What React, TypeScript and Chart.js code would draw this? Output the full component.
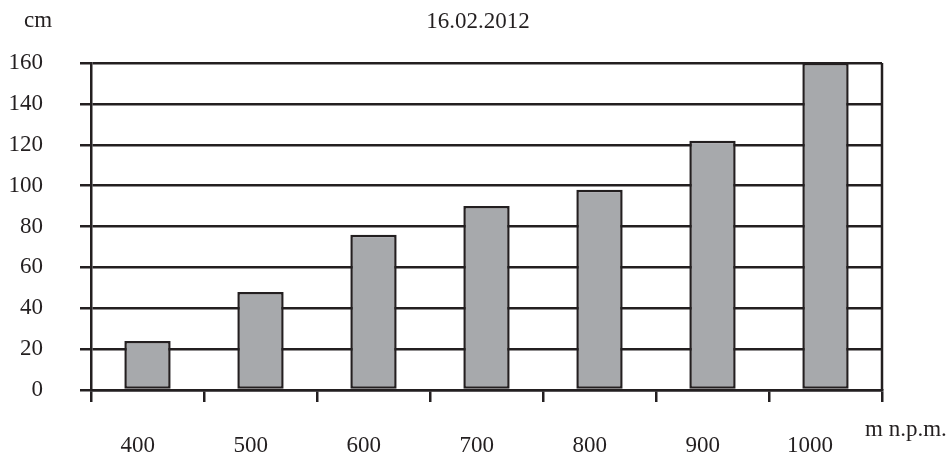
import React, { useEffect, useRef } from "react";
import { Chart, registerables } from "chart.js";

Chart.register(...registerables);

const categories = ["400", "500", "600", "700", "800", "900", "1000"];
const snowDepth = [24, 48, 76, 90, 98, 122, 160];
const yTicks = [0, 20, 40, 60, 80, 100, 120, 140, 160];
const titleText = "16.02.2012";
const yUnit = "cm";
const xUnit = "m n.p.m.";

const INK = "#231f20";
const FONT = "'Liberation Serif', 'Times New Roman', serif";
const FONT_SIZE = 23;

export default function App() {
  const ref = useRef<HTMLCanvasElement | null>(null);

  useEffect(() => {
    if (!ref.current) return;
    const textPlugin = {
      id: "texts",
      afterDraw(chart: any) {
        const ctx = chart.ctx;
        const area = chart.chartArea;
        const xs = chart.scales.x;
        ctx.save();
        ctx.fillStyle = INK;
        ctx.font = `${FONT_SIZE}px ${FONT}`;
        ctx.textBaseline = "alphabetic";
        ctx.textAlign = "left";
        ctx.fillText(yUnit, 24, 27);
        ctx.textAlign = "center";
        ctx.fillText(titleText, (area.left + area.right) / 2 - 8.5, 28);
        ctx.textAlign = "left";
        ctx.fillText(xUnit, area.right - 17, area.bottom + 46);
        // category labels
        ctx.textAlign = "right";
        categories.forEach((c, i) => {
          ctx.fillText(c, xs.getPixelForValue(i) + 7.5, area.bottom + 62);
        });
        // right border of plot
        ctx.strokeStyle = INK;
        ctx.lineWidth = 2.5;
        ctx.beginPath();
        ctx.moveTo(area.right, area.top);
        ctx.lineTo(area.right, area.bottom);
        ctx.stroke();
        ctx.restore();
      },
    };

    const chart = new Chart(ref.current, {
      type: "bar",
      data: {
        labels: categories,
        datasets: [
          {
            data: snowDepth,
            backgroundColor: "#a7a9ac",
            borderColor: INK,
            borderWidth: 2.5,
            borderSkipped: false,
            barPercentage: 0.41,
            categoryPercentage: 1,
          },
        ],
      },
      options: {
        animation: false,
        responsive: false,
        devicePixelRatio: 1,
        layout: { padding: { left: 0, right: 69, top: 63, bottom: 0 } },
        plugins: {
          legend: { display: false },
          title: { display: false },
          tooltip: { enabled: false },
        },
        scales: {
          x: {
            offset: true,
            grid: {
              offset: true,
              drawOnChartArea: false,
              drawTicks: true,
              tickLength: 12,
              color: INK,
              lineWidth: 2.5,
            },
            border: { display: true, color: INK, width: 2.5 },
            ticks: { display: false },
            afterFit(scale: any) {
              scale.height = 65;
            },
          },
          y: {
            min: 0,
            max: 160,
            afterBuildTicks(scale: any) {
              scale.ticks = yTicks.map((v) => ({ value: v }));
            },
            grid: {
              color: INK,
              lineWidth: 2.5,
              drawTicks: true,
              tickLength: 11,
            },
            border: { display: true, color: INK, width: 2.5 },
            ticks: {
              color: INK,
              font: { family: FONT, size: FONT_SIZE },
              padding: 37,
            },
            afterFit(scale: any) {
              scale.width = 91;
            },
          },
        },
      },
      plugins: [textPlugin],
    });
    return () => chart.destroy();
  }, []);

  return (
    <div style={{ position: "absolute", left: 0, top: 0, width: 951, height: 455, background: "#fff" }}>
      <canvas ref={ref} width={951} height={455} />
    </div>
  );
}
